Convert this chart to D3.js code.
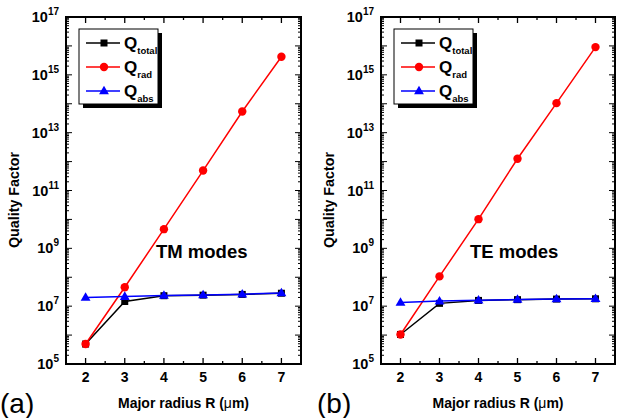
<!DOCTYPE html>
<html>
<head>
<meta charset="utf-8">
<script src="https://cdn.jsdelivr.net/npm/d3@7"></script>
<style>
	body { margin: 0; background: #fff; }
	svg { display: block; font-family: "Liberation Sans", Arial, sans-serif; }
</style>
</head>
<body>
<svg id="chart" width="620" height="418"></svg>
<script>
'use strict';

// data
var radius = [2, 3, 4, 5, 6, 7];

var tmTotal = [4.9e5, 1.45e7, 2.3e7, 2.4e7, 2.55e7, 2.8e7];
var tmRad = [4.9e5, 4.5e7, 4.6e9, 4.9e11, 5.4e13, 4.2e15];
var tmAbs = [2.0e7, 2.15e7, 2.35e7, 2.45e7, 2.6e7, 2.85e7];

var teTotal = [1.05e6, 1.25e7, 1.58e7, 1.68e7, 1.76e7, 1.8e7];
var teRad = [1.05e6, 1.07e8, 1.02e10, 1.25e12, 1.05e14, 9.1e15];
var teAbs = [1.35e7, 1.5e7, 1.6e7, 1.7e7, 1.78e7, 1.82e7];

var yLabelExps = [5, 7, 9, 11, 13, 15, 17];
var seriesNames = [['Q', 'total'], ['Q', 'rad'], ['Q', 'abs']];
var seriesColors = ['#000000', '#ff0000', '#0000ff'];
var seriesMarks = ['square', 'circle', 'triangle'];

var svg = d3.select('#chart');

var plotTop = 17, plotBottom = 364;

function drawPanel(opts) {
	var g = svg.append('g');
	var x = d3.scaleLinear().domain([1.5, 7.5]).range([opts.left, opts.right]);
	var y = d3.scaleLog().domain([1e5, 1e17]).range([plotBottom, plotTop]);

	var majorX = d3.range(2, 8, 1);
	var minorX = d3.range(1.5, 7.6, 1);
	var majorY = d3.range(5, 18).map(function(e) { return Math.pow(10, e); });
	var minorY = [];
	d3.range(5, 17).forEach(function(e) {
		for (var k = 2; k < 10; k++) minorY.push(k * Math.pow(10, e));
	});

	// ticks, inward, on all four sides
	[[majorX, 6], [minorX, 3]].forEach(function(p) {
		g.selectAll(null).data(p[0]).enter().append('line')
			.attr('x1', function(d) { return x(d); }).attr('x2', function(d) { return x(d); })
			.attr('y1', plotBottom).attr('y2', plotBottom - p[1])
			.attr('stroke', '#000').attr('stroke-width', 1.3);
		g.selectAll(null).data(p[0]).enter().append('line')
			.attr('x1', function(d) { return x(d); }).attr('x2', function(d) { return x(d); })
			.attr('y1', plotTop).attr('y2', plotTop + p[1])
			.attr('stroke', '#000').attr('stroke-width', 1.3);
	});
	[[majorY, 6], [minorY, 3]].forEach(function(p) {
		g.selectAll(null).data(p[0]).enter().append('line')
			.attr('y1', function(d) { return y(d); }).attr('y2', function(d) { return y(d); })
			.attr('x1', opts.left).attr('x2', opts.left + p[1])
			.attr('stroke', '#000').attr('stroke-width', 1);
		g.selectAll(null).data(p[0]).enter().append('line')
			.attr('y1', function(d) { return y(d); }).attr('y2', function(d) { return y(d); })
			.attr('x1', opts.right).attr('x2', opts.right - p[1])
			.attr('stroke', '#000').attr('stroke-width', 1);
	});

	g.append('rect')
		.attr('x', opts.left).attr('y', plotTop)
		.attr('width', opts.right - opts.left).attr('height', plotBottom - plotTop)
		.attr('fill', 'none').attr('stroke', '#000').attr('stroke-width', 2);

	// tick labels
	g.selectAll(null).data(majorX).enter().append('text')
		.attr('x', function(d) { return x(d); })
		.attr('y', plotBottom + 18)
		.attr('text-anchor', 'middle')
		.attr('font-size', 14).attr('font-weight', 'bold')
		.text(function(d) { return d; });

	var yl = g.selectAll(null).data(yLabelExps).enter().append('text')
		.attr('x', opts.left - 7)
		.attr('y', function(d) { return y(Math.pow(10, d)) + 5; })
		.attr('text-anchor', 'end')
		.attr('font-size', 14.5).attr('font-weight', 'bold');
	yl.append('tspan').text('10');
	yl.append('tspan').attr('font-size', 10).attr('dy', -7)
		.text(function(d) { return d; });

	// axis titles
	g.append('text')
		.attr('transform', 'translate(' + (opts.left - 47) + ',' + 200 + ') rotate(-90)')
		.attr('text-anchor', 'middle')
		.attr('font-size', 14.3).attr('font-weight', 'bold')
		.text('Quality Factor');

	var xt = g.append('text')
		.attr('x', (opts.left + opts.right) / 2)
		.attr('y', 408)
		.attr('text-anchor', 'middle')
		.attr('font-size', 14).attr('font-weight', 'bold');
	xt.append('tspan').text('Major radius R (');
	xt.append('tspan').attr('font-weight', 'normal').text('μ');
	xt.append('tspan').text('m)');

	g.append('text')
		.attr('x', opts.tagX).attr('y', 413)
		.attr('font-size', 28)
		.text(opts.tag);

	g.append('text')
		.attr('x', opts.noteX).attr('y', 258)
		.attr('font-size', 18.5).attr('font-weight', 'bold')
		.text(opts.note);

	// series
	var line = d3.line()
		.x(function(d) { return x(d[0]); })
		.y(function(d) { return y(d[1]); });

	function marker(sel, kind, color, cx, cy) {
		if (kind === 'square') {
			sel.append('rect').attr('x', cx - 3.5).attr('y', cy - 3.5)
				.attr('width', 7).attr('height', 7).attr('fill', color);
		} else if (kind === 'circle') {
			sel.append('circle').attr('cx', cx).attr('cy', cy).attr('r', 4.2).attr('fill', color);
		} else {
			sel.append('path')
				.attr('d', d3.symbol().type(d3.symbolTriangle).size(42)())
				.attr('transform', 'translate(' + cx + ',' + (cy + 0.5) + ')')
				.attr('fill', color);
		}
	}

	opts.series.forEach(function(vals, i) {
		var pts = radius.map(function(r, j) { return [r, vals[j]]; });
		var sg = g.append('g');
		sg.append('path').datum(pts)
			.attr('d', line)
			.attr('fill', 'none')
			.attr('stroke', seriesColors[i])
			.attr('stroke-width', 1.5);
		pts.forEach(function(p) {
			marker(sg, seriesMarks[i], seriesColors[i], x(p[0]), y(p[1]));
		});
	});

	// legend
	var lx = opts.legendX, ly = 29, lw = 79, lh = 75;
	var lg = g.append('g');
	lg.append('rect').attr('x', lx + 4).attr('y', ly + 4)
		.attr('width', lw).attr('height', lh).attr('fill', '#000');
	lg.append('rect').attr('x', lx).attr('y', ly)
		.attr('width', lw).attr('height', lh)
		.attr('fill', '#fff').attr('stroke', '#000').attr('stroke-width', 1);
	seriesNames.forEach(function(n, i) {
		var ry = ly + 14 + i * 24;
		lg.append('line')
			.attr('x1', lx + 7).attr('x2', lx + 41)
			.attr('y1', ry).attr('y2', ry)
			.attr('stroke', seriesColors[i]).attr('stroke-width', 1.5);
		marker(lg, seriesMarks[i], seriesColors[i], lx + 25, ry);
		var t = lg.append('text')
			.attr('x', lx + 45).attr('y', ry + 6)
			.attr('font-size', 17).attr('font-weight', 'bold');
		t.append('tspan').text(n[0]);
		t.append('tspan').attr('font-size', 9.5).attr('dy', 5).text(n[1]);
	});
}

drawPanel({
	left: 66, right: 301,
	series: [tmTotal, tmRad, tmAbs],
	legendX: 79, tag: '(a)', tagX: 0,
	note: 'TM modes', noteX: 156
});

drawPanel({
	left: 381, right: 615,
	series: [teTotal, teRad, teAbs],
	legendX: 394, tag: '(b)', tagX: 317,
	note: 'TE modes', noteX: 470
});
</script>
</body>
</html>
